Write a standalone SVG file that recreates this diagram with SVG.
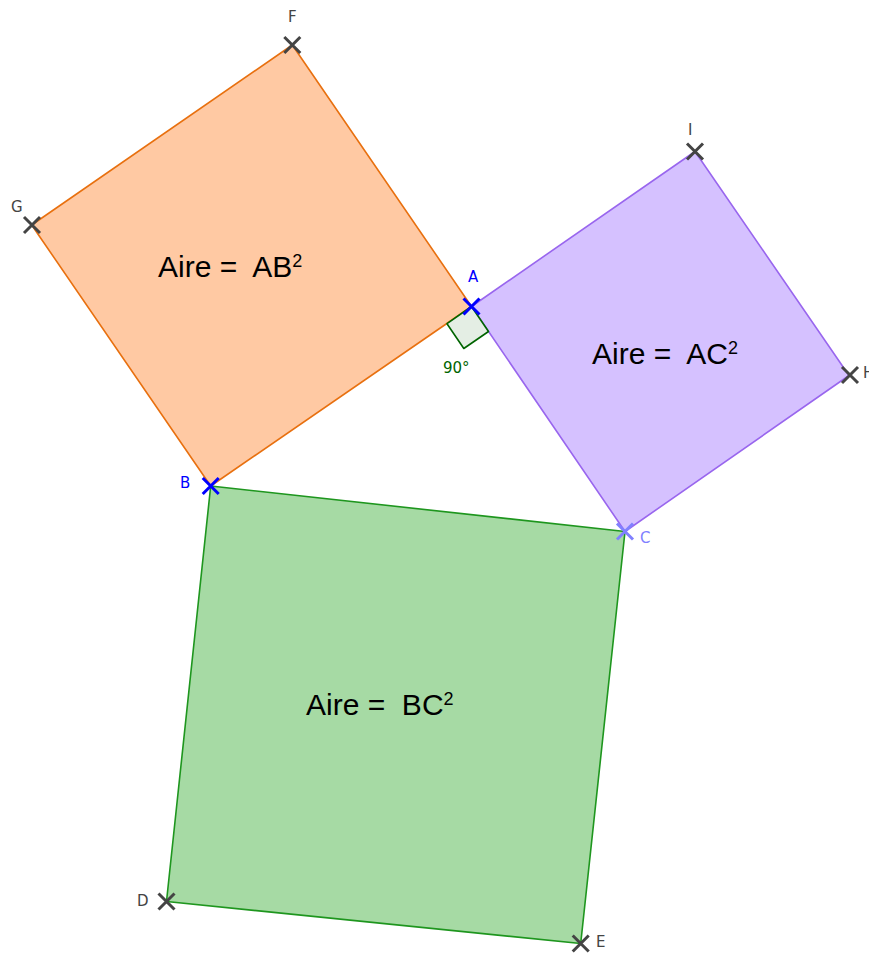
<svg xmlns="http://www.w3.org/2000/svg" width="869" height="954" viewBox="0 0 869 954">
<style>
.lbl{font-family:"DejaVu Sans",sans-serif;font-size:15px;fill:#444444}
.area{font-family:"Liberation Sans",Arial,sans-serif;font-size:30px;fill:#000000;white-space:pre}
.sup{font-size:18px}
.pt{stroke-width:3;fill:none;stroke-linecap:butt}
</style>
<defs>
<path id="x" d="M-8,-8L8,8M-8,8L8,-8"/>
</defs>
<rect width="869" height="954" fill="#ffffff"/>
<g id="sqAB">
<polygon points="471.5,306.5 210.7,486 31.7,225 292.3,45" fill="#FFC9A3" stroke="#E8700F" stroke-width="1.6" stroke-linejoin="round"/>
<text class="area" x="158" y="277">Aire =  AB<tspan class="sup" dy="-10">2</tspan></text>
</g>
<g id="sqAC">
<polygon points="471.5,306.5 625,531.5 849,375.5 695,151.5" fill="#D5C1FF" stroke="#9966EE" stroke-width="1.6" stroke-linejoin="round"/>
<text class="area" x="592" y="364">Aire =  AC<tspan class="sup" dy="-10">2</tspan></text>
</g>
<g id="sqBC">
<polygon points="210.7,486 625,531.5 580.7,943.5 166.5,901.5" fill="#A6DAA4" stroke="#1E961E" stroke-width="1.6" stroke-linejoin="round"/>
<text class="area" x="306" y="715">Aire =  BC<tspan class="sup" dy="-10">2</tspan></text>
</g>
<g id="rightAngle">
<polygon points="471.5,306.5 447,323.7 463.8,348.5 488.5,331.5" fill="#E4EEE4" stroke="#006400" stroke-width="1.6" stroke-linejoin="round"/>
<text x="443" y="373" style="font-family:'DejaVu Sans',sans-serif;font-size:15px;fill:#006400">90°</text>
</g>
<g id="ptF"><use href="#x" x="292.3" y="45" class="pt" stroke="#444444"/><text class="lbl" x="288" y="22">F</text></g>
<g id="ptG"><use href="#x" x="32" y="225" class="pt" stroke="#444444"/><text class="lbl" x="11" y="212">G</text></g>
<g id="ptI"><use href="#x" x="695" y="151.5" class="pt" stroke="#444444"/><text class="lbl" x="688" y="135">I</text></g>
<g id="ptH"><use href="#x" x="850" y="375" class="pt" stroke="#444444"/><text class="lbl" x="863" y="378">H</text></g>
<g id="ptD"><use href="#x" x="166.5" y="901.5" class="pt" stroke="#444444"/><text class="lbl" x="137" y="906">D</text></g>
<g id="ptE"><use href="#x" x="580.7" y="943.5" class="pt" stroke="#444444"/><text class="lbl" x="596" y="947">E</text></g>
<g id="ptA"><use href="#x" x="471.5" y="306.5" class="pt" stroke="#0000FF"/><text class="lbl" x="468" y="282" style="fill:#0000FF">A</text></g>
<g id="ptB"><use href="#x" x="210.7" y="486" class="pt" stroke="#0000FF"/><text class="lbl" x="180" y="488" style="fill:#0000FF">B</text></g>
<g id="ptC"><use href="#x" x="625" y="531.5" class="pt" stroke="#8080FF"/><text class="lbl" x="640" y="543" style="fill:#8080FF">C</text></g>
<g id="connectors"></g>
</svg>
